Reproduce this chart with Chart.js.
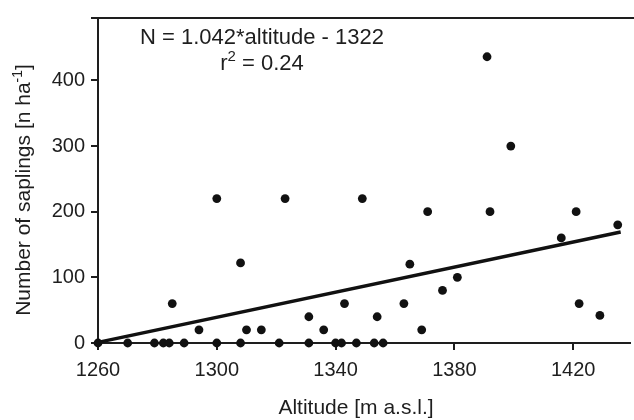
<!DOCTYPE html>
<html><head><meta charset="utf-8">
<script src="https://cdn.jsdelivr.net/npm/chart.js@4/dist/chart.umd.min.js"></script>
<style>html,body{margin:0;padding:0;background:#fff;overflow:hidden}#wrap{width:634px;height:420px}</style>
</head><body><div id="wrap"><canvas id="c" width="634" height="420"></canvas></div>
<script>
// Data
const altitude = [1260,1270,1279,1282,1284,1289,1300,1308,1321,1331,1340,1342,1347,1353,1356,
  1285,1294,1300,1308,1310,1315,1323,1331,1336,1343,1349,1354,1363,1365,1369,1371,1376,1381,
  1391,1392,1399,1416,1421,1422,1429,1435];
const saplings = [0,0,0,0,0,0,0,0,0,0,0,0,0,0,0,
  60,20,220,122,20,20,220,40,20,60,220,40,60,120,20,200,80,100,
  436,200,300,160,200,60,42,180];
// regression line as drawn in the picture (end points)
const fitAltitude = [1260,1436];
const fitSaplings = [1,169];
const xTickValues = [1260,1300,1340,1380,1420];
const yTickValues = [0,100,200,300,400];
const equationText = 'N = 1.042*altitude - 1322';
const r2Text = '0.24';
const xTitle = 'Altitude [m a.s.l.]';
const yTitleMain = 'Number of saplings [n ha';
const yTitleSup = '-1';
const yTitleEnd = ']';

const ink = '#1e1e1e';
const FONT = "'Liberation Sans', Arial, sans-serif";
const points = altitude.map((a,i)=>({x:a,y:saplings[i]}));
const fitLine = fitAltitude.map((a,i)=>({x:a,y:fitSaplings[i]}));

const extras = {
  id:'extras',
  afterDraw(chart){
    const {ctx, chartArea:ca} = chart;
    ctx.save();
    // top frame line with top tick
    ctx.strokeStyle = ink; ctx.lineWidth = 2;
    ctx.beginPath(); ctx.moveTo(ca.left-7, ca.top); ctx.lineTo(chart.width, ca.top); ctx.stroke();
    ctx.fillStyle = ink;
    ctx.textBaseline = 'alphabetic';
    const fBig = '22px ' + FONT, fSmall = '15px ' + FONT;
    // equation
    ctx.textAlign = 'center';
    ctx.font = fBig;
    const cx = 262;
    ctx.fillText(equationText, cx, 44);
    const wr = ctx.measureText('r').width;
    const wRest = ctx.measureText(' = ' + r2Text).width;
    ctx.font = fSmall; const w2 = ctx.measureText('2').width;
    let x0 = cx - (wr + w2 + wRest)/2;
    ctx.textAlign = 'left';
    ctx.font = fBig; ctx.fillText('r', x0, 70);
    ctx.font = fSmall; ctx.fillText('2', x0+wr, 61);
    ctx.font = fBig; ctx.fillText(' = ' + r2Text, x0+wr+w2, 70);
    // x title
    const fT = '21px ' + FONT, fTs = '14px ' + FONT;
    ctx.font = fT; ctx.textAlign = 'center';
    ctx.fillText(xTitle, 356, 414);
    // y title (rotated, with superscript)
    ctx.font = fT;
    const wm = ctx.measureText(yTitleMain).width;
    const we = ctx.measureText(yTitleEnd).width;
    ctx.font = fTs;
    const ws = ctx.measureText(yTitleSup).width;
    const total = wm + ws + we;
    ctx.translate(30, 190);
    ctx.rotate(-Math.PI/2);
    ctx.textAlign = 'left';
    let s = -total/2;
    ctx.font = fT; ctx.fillText(yTitleMain, s, 0);
    ctx.font = fTs; ctx.fillText(yTitleSup, s+wm, -8);
    ctx.font = fT; ctx.fillText(yTitleEnd, s+wm+ws, 0);
    ctx.restore();
  }
};

new Chart(document.getElementById('c'), {
  type:'scatter',
  data:{datasets:[
    {label:'fit', type:'line', data:fitLine, borderColor:'#111', borderWidth:3.5, pointRadius:0, fill:false, order:2},
    {label:'saplings', data:points, backgroundColor:'#111', borderColor:'#111', pointRadius:4.4, pointBorderWidth:0, order:1}
  ]},
  options:{
    responsive:false, animation:false, devicePixelRatio:1,
    clip:false,
    layout:{padding:{top:13,right:0,left:0,bottom:0}},
    plugins:{legend:{display:false}, tooltip:{enabled:false}},
    scales:{
      x:{type:'linear', min:1260, max:1439,
        afterBuildTicks:s=>{s.ticks = xTickValues.map(v=>({value:v}));},
        afterFit:s=>{s.height = 77;},
        border:{color:ink, width:2},
        grid:{drawOnChartArea:false, drawTicks:true, tickLength:7, color:ink, lineWidth:2},
        ticks:{color:ink, font:{family:FONT, size:20}, padding:8, maxRotation:0, autoSkip:false,
          callback:v=>String(v)},
        title:{display:false}
      },
      y:{type:'linear', min:0, max:495,
        afterBuildTicks:s=>{s.ticks = yTickValues.map(v=>({value:v}));},
        afterFit:s=>{s.width = 98;},
        border:{color:ink, width:2},
        grid:{drawOnChartArea:false, drawTicks:true, tickLength:7, color:ink, lineWidth:2},
        ticks:{color:ink, font:{family:FONT, size:20}, padding:6, autoSkip:false, callback:v=>String(v)},
        title:{display:false}
      }
    }
  },
  plugins:[extras]
});
</script></body></html>
